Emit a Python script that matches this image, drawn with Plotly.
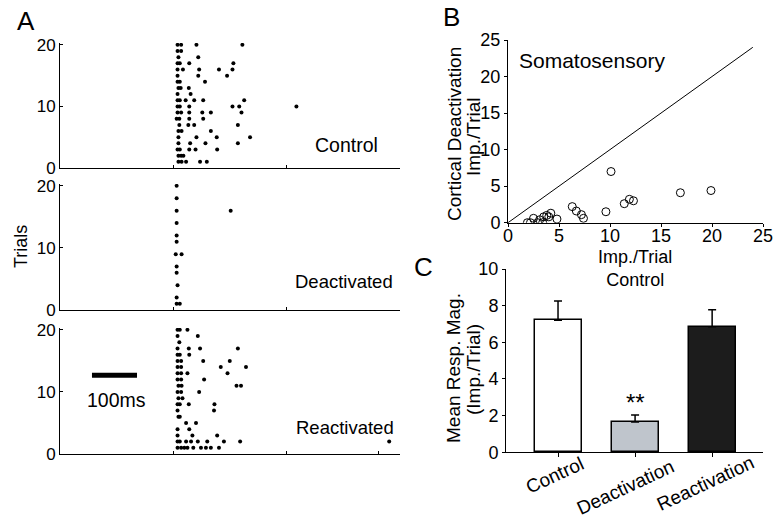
import plotly.graph_objects as go

FONT = "Arial, Liberation Sans, sans-serif"

# ---------------- Panel A: raster data (spike times in ms after stimulus) -------------
trials = list(range(1, 21))
control_spikes = [
    [10, 17, 27, 58, 73],          # trial 1
    [10, 16, 21],                  # 2
    [8, 13, 34, 48, 96],           # 3
    [10, 36, 70, 142],             # 4
    [10, 50, 95, 169],             # 5
    [10, 17, 82],                  # 6
    [12, 32, 45, 142],             # 7
    [6, 12, 34, 65],               # 8
    [8, 16, 34, 63, 82, 150],      # 9
    [8, 13, 34, 130, 145, 272],    # 10
    [8, 13, 26, 45, 65, 156],      # 11
    [8, 37],                       # 12
    [10, 15, 33],                  # 13
    [8, 13, 69],                   # 14
    [8, 54, 118],                  # 15
    [8, 20, 56, 100, 130],         # 16
    [8, 13, 34, 132],              # 17
    [10, 54],                      # 18
    [8, 16],                       # 19
    [8, 16, 50, 152],              # 20
]
deactivated_spikes = [
    [6, 13], [6], [], [8], [], [6], [6], [], [4, 17], [],
    [6], [6], [], [6], [], [6, 126], [], [6], [], [6],
]
reactivated_spikes = [
    [8, 16, 23, 30, 43, 60, 71, 82, 100],          # 1
    [8, 13, 27, 38, 53, 74, 111, 147, 478],        # 2
    [8, 41, 96],                                   # 3
    [8, 34],                                       # 4
    [27, 49],                                      # 5
    [10, 13],                                      # 6
    [8, 89],                                       # 7
    [8, 13, 33, 90],                               # 8
    [10, 19],                                      # 9
    [8, 16, 56],                                   # 10
    [10, 17, 139, 149],                            # 11
    [8, 16, 67],                                   # 12
    [8, 16, 30, 119],                              # 13
    [8, 16, 104, 160],                             # 14
    [8, 16, 65, 124],                              # 15
    [8, 13, 34],                                   # 16
    [8, 33, 58, 142],                              # 17
    [12],                                          # 18
    [8, 53],                                       # 19
    [8, 13, 30],                                   # 20
]
raster_labels = ["Control", "Deactivated", "Reactivated"]
raster_ticks = [0, 10, 20]
scale_bar_ms = 100

# ---------------- Panel B: scatter ----------------
b_control = [1.9, 2.2, 2.5, 2.9, 3.1, 3.4, 3.5, 3.8, 4.0, 4.2, 4.8,
             6.3, 6.7, 7.2, 7.4, 9.6, 10.1, 11.4, 11.9, 12.3, 16.9, 19.9]
b_deact = [0.0, 0.0, 0.6, 0.0, 0.4, 0.0, 0.8, 1.0, 0.8, 1.3, 0.5,
           2.2, 1.6, 1.1, 0.6, 1.5, 7.0, 2.6, 3.2, 3.0, 4.1, 4.4]
b_unity = [0, 24]
b_ticks = [0, 5, 10, 15, 20, 25]

# ---------------- Panel C: bars ----------------
c_categories = ["Control", "Deactivation", "Reactivation"]
c_means = [7.2, 1.65, 6.85]
c_sem = [1.05, 0.38, 0.93]
c_ticks = [0, 2, 4, 6, 8, 10]

W, H = 776, 519


def px(x):
    return x / W


def py(y):
    return 1 - y / H


fig = go.Figure()

# raster traces
raster_sets = [control_spikes, deactivated_spikes, reactivated_spikes]
for k, spikes in enumerate(raster_sets):
    xs, ys = [], []
    for t, times in zip(trials, spikes):
        for s in times:
            xs.append(s)
            ys.append(t)
    sfx = "" if k == 0 else str(k + 1)
    fig.add_trace(go.Scatter(
        x=xs, y=ys, mode="markers",
        marker=dict(size=4, color="black"),
        xaxis="x" + sfx, yaxis="y" + sfx, showlegend=False, hoverinfo="skip"))

# panel B
fig.add_trace(go.Scatter(x=b_unity, y=b_unity, mode="lines",
                         line=dict(color="black", width=1),
                         xaxis="x4", yaxis="y4", showlegend=False))
fig.add_trace(go.Scatter(x=b_control, y=b_deact, mode="markers",
                         marker=dict(symbol="circle-open", size=8,
                                     color="black", line=dict(width=1)),
                         xaxis="x4", yaxis="y4", showlegend=False))

# panel C
fig.add_trace(go.Bar(
    x=list(range(len(c_categories))), y=c_means, width=0.61,
    marker=dict(color=["white", "#bfc5cc", "#1c1c1c"],
                line=dict(color="black", width=1.5)),
    error_y=dict(type="data", symmetric=False, array=c_sem,
                 arrayminus=[0] * len(c_sem), color="black",
                 thickness=1.5, width=4),
    xaxis="x5", yaxis="y5", showlegend=False))

axis_common = dict(showgrid=False, zeroline=False, showline=True,
                   linecolor="black", linewidth=1, tickcolor="black",
                   automargin=False,
                   tickfont=dict(family=FONT, size=18, color="black"))

x_dom_A = [px(60), px(400)]
y_doms_A = [[py(168), py(43)], [py(310), py(184)], [py(454), py(328)]]
x_ticks_A = [[0, 250], [0, 250], [0, 250, 455]]

layout = dict(width=W, height=H, margin=dict(l=0, r=0, t=0, b=0),
              paper_bgcolor="white", plot_bgcolor="white",
              font=dict(family=FONT, color="black"), bargap=0)

for k in range(3):
    sfx = "" if k == 0 else str(k + 1)
    layout["xaxis" + sfx] = dict(axis_common, domain=x_dom_A, range=[-253, 502],
                                 anchor="y" + sfx, tickvals=x_ticks_A[k],
                                 showticklabels=False, ticks="inside", ticklen=3)
    layout["yaxis" + sfx] = dict(axis_common, domain=y_doms_A[k], range=[0, 20.3],
                                 anchor="x" + sfx, tickvals=raster_ticks,
                                 ticks="inside", ticklen=3,
                                 tickfont=dict(family=FONT, size=17, color="black"))

layout["xaxis4"] = dict(axis_common, domain=[px(508), px(763)], range=[0, 25],
                        anchor="y4", tickvals=b_ticks, ticks="outside", ticklen=3,
                        ticklabelstandoff=-6)
layout["yaxis4"] = dict(axis_common, domain=[py(222.7), py(40)], range=[0, 25],
                        anchor="x4", tickvals=b_ticks, ticks="outside", ticklen=3)
layout["xaxis5"] = dict(axis_common, domain=[px(506), px(763)], range=[-0.675, 2.66],
                        anchor="y5", tickvals=[0, 1, 2], showticklabels=False,
                        ticks="outside", ticklen=4)
layout["yaxis5"] = dict(axis_common, domain=[py(452.3), py(269)], range=[0, 10],
                        anchor="x5", tickvals=c_ticks, ticks="outside", ticklen=3)

fig.update_layout(**layout)


def note(text, x, y, size=19, angle=0, **kw):
    fig.add_annotation(text=text, x=px(x), y=py(y), xref="paper", yref="paper",
                       showarrow=False, textangle=angle,
                       font=dict(family=FONT, size=size, color="black"),
                       xanchor="center", yanchor="middle", **kw)


# panel letters
note("A", 26, 21, size=26)
note("B", 451, 17, size=26)
note("C", 424, 267, size=26)

# panel A texts
note("Trials", 21, 247, size=18, angle=-90)
a_label_sizes = [19.5, 18.5, 18.5]
for lab, sz, (xx, yy) in zip(raster_labels, a_label_sizes,
                             [(346, 145), (344, 281), (345, 427)]):
    note(lab, xx, yy, size=sz)

# scale bar
fig.add_shape(type="line", xref="x3", yref="y3", x0=-182, x1=-182 + scale_bar_ms,
              y0=12.7, y1=12.7, line=dict(color="black", width=5))
note(f"{scale_bar_ms}ms", 116, 400, size=19.5)

# panel B texts
note("Somatosensory", 592, 61, size=21)
note("Cortical Deactivation", 454, 134, angle=-90)
note("Imp./Trial", 474, 137, angle=-90)
note("Imp./Trial<br>Control", 635, 269, size=18)

# panel C texts
note("Mean Resp. Mag.", 453, 368, angle=-90)
note("(Imp./Trial)", 473, 370, angle=-90)
c_label_centers = [(554, 475), (625, 487), (705, 483)]
for lab, (xx, yy) in zip(c_categories, c_label_centers):
    note(lab, xx, yy, angle=-25)

fig.add_annotation(text="**", x=1, y=c_means[1] + c_sem[1] + 0.68,
                   xref="x5", yref="y5", showarrow=False,
                   font=dict(family=FONT, size=24, color="black"))

fig.write_html(
    "out.html",
    config={"displayModeBar": False},
    post_script="document.body.style.margin='0';document.body.style.overflow='hidden';",
)
